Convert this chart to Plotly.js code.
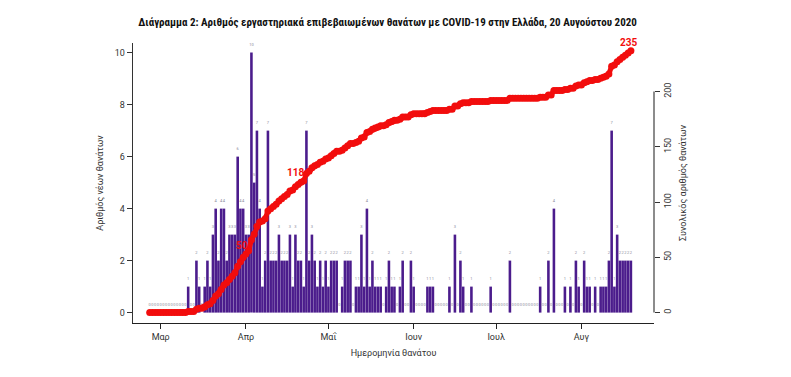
<!DOCTYPE html>
<html>
<head>
<meta charset="utf-8">
<script src="https://cdn.plot.ly/plotly-3.0.1.min.js"></script>
<style>html,body{margin:0;padding:0;background:#fff;}#chart{width:791px;height:377px;}</style>
</head>
<body>
<div id="chart"></div>
<script>
// First day of the series (Feb 26, 2020), one value per day up to Aug 19, 2020
const startDate = '2020-02-26';
// Daily new deaths (left axis)
const febDeaths = [0, 0, 0, 0];
const marDeaths = [0,0,0,0,0,0,0,0,0,0, 1,0,0,2,1,0,1,2,1,3, 4,2,4,4,2,3,3,3,6,4, 4];
const aprDeaths = [3,3,10,5,7,4,1,2,7,2, 2,2,3,2,2,2,3,1,3,2, 2,1,7,2,3,2,1,2,1,2];
const mayDeaths = [1,2,2,2,0,1,2,2,2,0, 1,1,3,1,4,1,2,1,1,1, 0,1,2,1,1,0,1,2,0,0, 2];
const junDeaths = [1,0,0,0,0,1,1,1,0,0, 0,0,0,1,0,3,0,2,1,0, 0,1,0,0,0,0,0,0,1,0];
const julDeaths = [0,0,0,0,0,2,0,0,0,0, 0,0,0,0,0,0,1,0,0,2, 0,4,0,0,0,1,0,1,0,2, 1];
const augDeaths = [0,2,1,1,0,1,0,1,1,1, 2,7,1,3,2,2,2,2,2];
// Tick labels
const monthTicks = ['2020-03-01','2020-04-01','2020-05-01','2020-06-01','2020-07-01','2020-08-01'];
const monthLabels = ['Μαρ','Απρ','Μαΐ','Ιουν','Ιουλ','Αυγ'];
const leftTicks = [0, 2, 4, 6, 8, 10];
const rightTicks = [0, 50, 100, 150, 200];
// Cumulative values that are labelled on the curve
const labelledTotals = [50, 118, 235];

const daily = [].concat(febDeaths, marDeaths, aprDeaths, mayDeaths, junDeaths, julDeaths, augDeaths);
const dates = [];
const d0 = new Date(startDate + 'T00:00:00Z');
for (let i = 0; i < daily.length; i++) {
  const d = new Date(d0.getTime() + i * 86400000);
  dates.push(d.toISOString().slice(0, 10));
}
const cumulative = [];
let s = 0;
for (const v of daily) { s += v; cumulative.push(s); }

const purple = '#4b1c8c';
const red = '#f20d0d';

const bars = {
  type: 'bar', x: dates, y: daily, marker: {color: purple, line: {width: 0}},
  hoverinfo: 'skip', showlegend: false
};
const barLabels = {
  type: 'scatter', mode: 'text', x: dates, y: daily.map(v => v + 0.28),
  text: daily.map(String), textfont: {size: 4, color: '#8a8a9a', family: 'Roboto'},
  hoverinfo: 'skip', showlegend: false
};
const cum = {
  type: 'scatter', mode: 'lines+markers', x: dates, y: cumulative, yaxis: 'y2',
  line: {color: red, width: 5}, marker: {color: red, size: 7},
  hoverinfo: 'skip', showlegend: false
};

const annotations = [];
const shifts = [[7, 4], [5, 2], [0, 3]];
labelledTotals.forEach((t, k) => {
  const idx = cumulative.findIndex(c => c >= t);
  const last = k === labelledTotals.length - 1;
  annotations.push({
    x: dates[idx], y: cumulative[idx], xref: 'x', yref: 'y2', text: '<b>' + cumulative[idx] + '</b>',
    showarrow: false, xanchor: last ? 'center' : 'right', yanchor: 'bottom',
    xshift: shifts[k][0], yshift: shifts[k][1],
    font: {size: 10, color: red, family: 'Roboto'}
  });
});

const layout = {
  width: 791, height: 377,
  margin: {l: 133, r: 137, t: 43, b: 54},
  paper_bgcolor: '#fff', plot_bgcolor: '#fff',
  bargap: 0.06,
  title: {
    text: '<b>Διάγραμμα 2: Αριθμός εργαστηριακά επιβεβαιωμένων θανάτων με COVID-19 στην Ελλάδα, 20 Αυγούστου 2020</b>',
    x: 0.49, xanchor: 'center', y: 1 - 22 / 377, yanchor: 'middle',
    font: {size: 11, color: '#111', family: 'Liberation Sans Narrow, Roboto Condensed, Arial Narrow, sans-serif'}
  },
  xaxis: {
    type: 'date', range: ['2020-02-19 22:20', '2020-08-27 09:36'],
    tickvals: monthTicks, ticktext: monthLabels,
    showline: true, linecolor: '#222', linewidth: 1.3, ticks: 'outside', ticklen: 5, tickcolor: '#222',
    tickfont: {size: 9, color: '#333', family: 'Roboto'}, showgrid: false, zeroline: false,
    title: {text: 'Ημερομηνία θανάτου', font: {size: 9, color: '#333', family: 'Roboto'}, standoff: 8}
  },
  yaxis: {
    range: [-0.4, 10.37], tickvals: leftTicks, ticktext: leftTicks.map(String),
    showline: true, linecolor: '#333', linewidth: 1.3, ticks: 'outside', ticklen: 5, tickcolor: '#333',
    tickfont: {size: 9, color: '#333', family: 'Roboto'}, showgrid: false, zeroline: false,
    title: {text: 'Αριθμός νέων θανάτων', font: {size: 9, color: '#333', family: 'Roboto'}, standoff: 9}
  },
  yaxis2: {
    overlaying: 'y', side: 'right', range: [-9.41, 244.0], tickvals: rightTicks, ticktext: rightTicks.map(String),
    tickangle: -90, showline: false, ticks: 'outside', ticklen: 5, tickcolor: '#333',
    tickfont: {size: 9, color: '#333', family: 'Roboto'}, showgrid: false, zeroline: false,
    title: {text: 'Συνολικός αριθμός θανάτων', font: {size: 9, color: '#333', family: 'Roboto'}, standoff: 7}
  },
  shapes: [{
    type: 'line', xref: 'paper', yref: 'y2', x0: 1, x1: 1, y0: rightTicks[0], y1: rightTicks[rightTicks.length - 1],
    line: {color: '#666', width: 1.5}
  }],
  annotations: annotations
};

Plotly.newPlot('chart', [bars, barLabels, cum], layout, {displayModeBar: false, staticPlot: true});
</script>
</body>
</html>
